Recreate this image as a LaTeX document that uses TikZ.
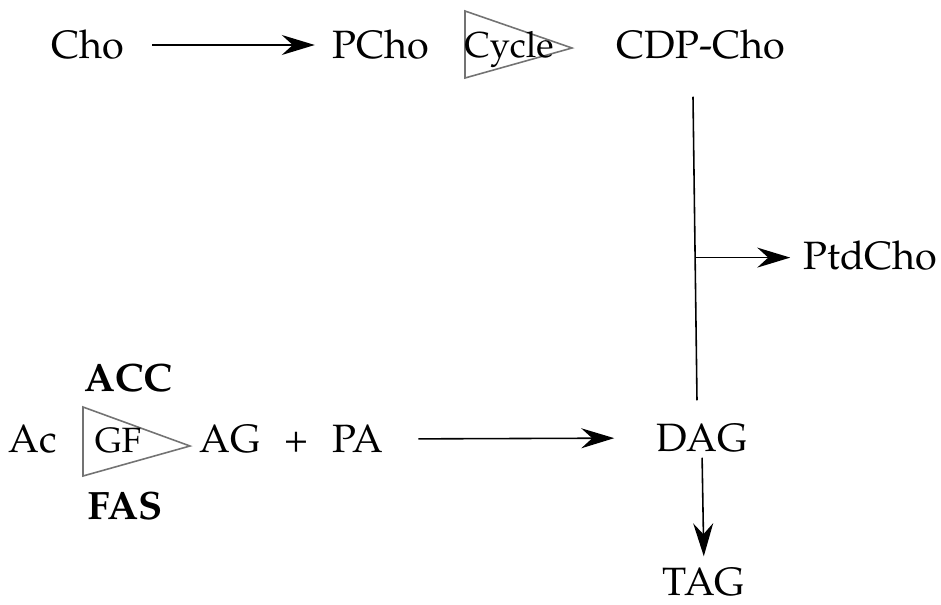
\documentclass[tikz,border=0pt]{standalone}
\usepackage[T1]{fontenc}
\usepackage{mathpazo}
\usetikzlibrary{arrows.meta,calc}
\tikzset{
  lbl/.style={inner sep=0pt, outer sep=0pt, text height=0.55cm, text depth=0pt,
    font=\fontsize{22.5}{27}\selectfont},
  tri/.style={draw=black!55, fill=white, line width=0.9pt, line join=miter},
  conn/.style={draw=black, line width=0.9pt},
  arr/.style={conn, -{Stealth[length=0.66cm,width=0.4cm,inset=0.22cm]}},
}
\begin{document}
\begin{tikzpicture}[x=0.02cm,y=-0.02cm]
\useasboundingbox (0,0) rectangle (941,605);
% top row
\node[lbl] (Cho) at (88,45) {Cho};
\node[lbl] (PCho) at (381,45) {PCho};
\draw[tri] (465,11) -- (465,78) -- (572,48) -- cycle;
\node[lbl, text height=0.47cm, font=\fontsize{20.5}{25}\selectfont] (Cycle) at (509,46) {Cycle};
\node[lbl] (CDPCho) at (701,45) {CDP-Cho};
% side product
\node[lbl] (PtdCho) at (870,256) {PtdCho};
% bottom row
\node[lbl] (Ac) at (33,439) {Ac};
\draw[tri] (83,407) -- (83,476) -- (190,446) -- cycle;
\node[lbl, text height=0.45cm, font=\fontsize{20}{24}\selectfont] (GF) at (118,441) {GF};
\node[lbl, font=\fontsize{22.5}{27}\selectfont\bfseries] (ACC) at (128,378) {ACC};
\node[lbl, font=\fontsize{22.5}{27}\selectfont\bfseries] (FAS) at (125,506) {FAS};
\node[lbl] (AG) at (230,439) {AG};
\node[lbl] (plus) at (296,439) {+};
\node[lbl] (PA) at (358,439) {PA};
\node[lbl] (DAG) at (702,438) {DAG};
\node[lbl] (TAG) at (704,582) {TAG};
% connectors
\draw[arr, shorten <=0.56cm, shorten >=0.36cm] (Cho.east) -- (PCho.west);
\draw[conn] ($(CDPCho.south)+(-8,38)$) coordinate (vtop) -- ($(DAG.north)+(-5,-24)$) coordinate (vbot);
\coordinate (br) at ($(vtop)!0.53!(vbot)$);
\draw[arr, shorten >=0.26cm] (br) -- (br -| PtdCho.west);
\draw[arr, shorten <=0.7cm, shorten >=0.84cm] (PA.east) -- (DAG.west);
\draw[arr, shorten <=0.12cm, shorten >=0.24cm] (DAG.south) -- (TAG.north);
\end{tikzpicture}
\end{document}
